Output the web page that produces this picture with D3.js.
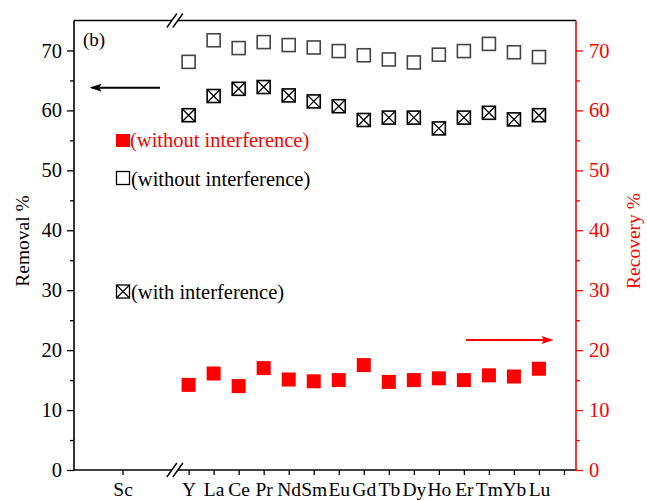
<!DOCTYPE html>
<html>
<head>
<meta charset="utf-8">
<script src="https://cdn.jsdelivr.net/npm/d3@7"></script>
<style>
  body { margin: 0; background: #fff; }
  svg, svg text { font-family: "Liberation Serif", "Times New Roman", serif; }
</style>
</head>
<body>
<div id="chart"></div>
<script>
// element labels along the broken x axis
var elements = ["Y", "La", "Ce", "Pr", "Nd", "Sm", "Eu", "Gd", "Tb", "Dy", "Ho", "Er", "Tm", "Yb", "Lu"];
var scLabel = "Sc";

// removal % (left axis)
var removalWithout = [68.1, 71.7, 70.4, 71.4, 70.9, 70.5, 69.9, 69.2, 68.5, 68.0, 69.3, 69.9, 71.1, 69.7, 68.9];
var removalWith = [59.2, 62.4, 63.6, 63.9, 62.5, 61.5, 60.7, 58.4, 58.8, 58.8, 57.0, 58.8, 59.6, 58.5, 59.2];

// recovery % (right axis)
var recoveryWithout = [14.2, 16.1, 14.0, 17.0, 15.1, 14.8, 15.0, 17.5, 14.7, 15.0, 15.3, 15.0, 15.8, 15.6, 16.9];

var yTicks = [0, 10, 20, 30, 40, 50, 60, 70];
var yMinorTicks = [5, 15, 25, 35, 45, 55, 65];

var W = 647, H = 500;
var margin = { top: 20.5, right: 71, bottom: 30, left: 74 };
var red = "#ff0000";
var serif = "Liberation Serif, Times New Roman, serif";

var svg = d3.select("#chart").append("svg")
    .attr("width", W).attr("height", H);

// x positions: index of the element, Sc sits left of the break
var x = d3.scaleLinear()
    .domain([-4.58, 15.48])
    .range([margin.left, W - margin.right]);
var scPos = -2.64, breakPos = -0.55;

var y = d3.scaleLinear().domain([0, 75]).range([H - margin.bottom, margin.top]);
var y2 = d3.scaleLinear().domain([0, 75]).range([H - margin.bottom, margin.top]);

var x0 = margin.left, x1 = W - margin.right;
var yTop = margin.top, yBot = H - margin.bottom;

// bottom axis
var tickVals = [scPos].concat(d3.range(0, 16));
var xAxis = d3.axisBottom(x)
    .tickValues(tickVals)
    .tickSize(5)
    .tickPadding(7)
    .tickSizeOuter(0)
    .tickFormat(function(d) {
        if (d === scPos) return scLabel;
        return elements[d] || "";
    });
var gx = svg.append("g")
    .attr("transform", "translate(0," + yBot + ")")
    .call(xAxis)
    .attr("font-family", serif);
gx.select(".domain").remove();
gx.selectAll("line").attr("stroke", "#000").attr("stroke-width", 1.3);
gx.selectAll("text").attr("font-size", 19.5).attr("fill", "#000");

// left axis
var gy = svg.append("g")
    .attr("transform", "translate(" + x0 + ",0)")
    .call(d3.axisLeft(y).tickValues(yTicks).tickSize(7).tickPadding(5).tickSizeOuter(0))
    .attr("font-family", serif);
gy.select(".domain").remove();
gy.selectAll("line").attr("stroke-width", 1.3);
gy.selectAll("text").attr("font-size", 20.5).attr("fill", "#000");
var gyMinor = svg.append("g")
    .attr("transform", "translate(" + x0 + ",0)")
    .call(d3.axisLeft(y).tickValues(yMinorTicks).tickSize(4).tickFormat(""));
gyMinor.select(".domain").remove();
gyMinor.selectAll("line").attr("stroke-width", 1.3);

// right axis (red)
var gy2 = svg.append("g")
    .attr("transform", "translate(" + x1 + ",0)")
    .call(d3.axisRight(y2).tickValues(yTicks).tickSize(7).tickPadding(6).tickSizeOuter(0))
    .attr("font-family", serif);
gy2.select(".domain").remove();
gy2.selectAll("line").attr("stroke", red).attr("stroke-width", 1.3);
gy2.selectAll("text").attr("font-size", 20.5).attr("fill", red);
var gy2Minor = svg.append("g")
    .attr("transform", "translate(" + x1 + ",0)")
    .call(d3.axisRight(y2).tickValues(yMinorTicks).tickSize(4).tickFormat(""));
gy2Minor.select(".domain").remove();
gy2Minor.selectAll("line").attr("stroke", red).attr("stroke-width", 1.3);

// frame
svg.append("line").attr("x1", x0).attr("x2", x1).attr("y1", yBot).attr("y2", yBot)
    .attr("stroke", "#000").attr("stroke-width", 1.6);
svg.append("line").attr("x1", x0).attr("x2", x1).attr("y1", yTop).attr("y2", yTop)
    .attr("stroke", "#000").attr("stroke-width", 1.6);
svg.append("line").attr("x1", x0).attr("x2", x0).attr("y1", yTop).attr("y2", yBot)
    .attr("stroke", "#000").attr("stroke-width", 1.6);
svg.append("line").attr("x1", x1).attr("x2", x1).attr("y1", yTop).attr("y2", yBot)
    .attr("stroke", red).attr("stroke-width", 1.6);

// axis break marks top and bottom
[yTop, yBot].forEach(function(yy) {
    var bx = x(breakPos);
    svg.append("rect").attr("x", bx - 3).attr("y", yy - 2).attr("width", 6).attr("height", 4)
        .attr("fill", "#fff");
    [-3, 3].forEach(function(off) {
        svg.append("line")
            .attr("x1", bx + off - 5).attr("y1", yy + 7)
            .attr("x2", bx + off + 5).attr("y2", yy - 7)
            .attr("stroke", "#000").attr("stroke-width", 1.4);
    });
});

var s = 13; // marker size

// open squares: removal without interference
svg.append("g").selectAll("rect")
    .data(removalWithout)
    .enter().append("rect")
    .attr("x", function(d, i) { return x(i) - s / 2; })
    .attr("y", function(d) { return y(d) - s / 2; })
    .attr("width", s).attr("height", s)
    .attr("fill", "none").attr("stroke", "#444").attr("stroke-width", 1.6);

// crossed squares: removal with interference
var cross = svg.append("g").selectAll("g")
    .data(removalWith)
    .enter().append("g")
    .attr("transform", function(d, i) { return "translate(" + x(i) + "," + y(d) + ")"; });
cross.append("rect")
    .attr("x", -s / 2).attr("y", -s / 2).attr("width", s).attr("height", s)
    .attr("fill", "none").attr("stroke", "#000").attr("stroke-width", 1.6);
cross.append("path")
    .attr("d", "M" + (-s / 2) + "," + (-s / 2) + "L" + (s / 2) + "," + (s / 2) +
               "M" + (s / 2) + "," + (-s / 2) + "L" + (-s / 2) + "," + (s / 2))
    .attr("stroke", "#000").attr("stroke-width", 1.3);

// red filled squares: recovery
svg.append("g").selectAll("rect")
    .data(recoveryWithout)
    .enter().append("rect")
    .attr("x", function(d, i) { return x(i) - 7; })
    .attr("y", function(d) { return y2(d) - 7; })
    .attr("width", 14).attr("height", 14)
    .attr("fill", red);

// arrows
var defs = svg.append("defs");
[["arrBlack", "#000"], ["arrRed", red]].forEach(function(a) {
    defs.append("marker").attr("id", a[0])
        .attr("viewBox", "0 0 10 10").attr("refX", 8).attr("refY", 5)
        .attr("markerWidth", 6).attr("markerHeight", 4).attr("orient", "auto")
        .attr("markerUnits", "strokeWidth")
        .attr("preserveAspectRatio", "none")
        .append("path").attr("d", "M0,0L10,5L0,10L2,5Z").attr("fill", a[1]);
});
svg.append("line").attr("x1", 160).attr("y1", 87.7).attr("x2", 92).attr("y2", 87.7)
    .attr("stroke", "#000").attr("stroke-width", 2).attr("marker-end", "url(#arrBlack)");
svg.append("line").attr("x1", 466).attr("y1", 340).attr("x2", 551).attr("y2", 340)
    .attr("stroke", red).attr("stroke-width", 2).attr("marker-end", "url(#arrRed)");

// panel label
svg.append("text").attr("x", 83).attr("y", 46).attr("font-size", 19).text("(b)");

// legend
var lg = svg.append("g");
lg.append("rect").attr("x", 116).attr("y", 134).attr("width", 14).attr("height", 13).attr("fill", red);
lg.append("text").attr("x", 130).attr("y", 147).attr("font-size", 20.5).attr("fill", red)
    .text("(without interference)");
lg.append("rect").attr("x", 116.5).attr("y", 171.5).attr("width", 13).attr("height", 13)
    .attr("fill", "none").attr("stroke", "#000").attr("stroke-width", 1.3);
lg.append("text").attr("x", 131).attr("y", 186).attr("font-size", 20.5).text("(without interference)");
var lc = lg.append("g").attr("transform", "translate(123,291.5)");
lc.append("rect").attr("x", -6.5).attr("y", -6.5).attr("width", 13).attr("height", 13)
    .attr("fill", "none").attr("stroke", "#000").attr("stroke-width", 1.3);
lc.append("path").attr("d", "M-6.5,-6.5L6.5,6.5M6.5,-6.5L-6.5,6.5").attr("stroke", "#000").attr("stroke-width", 1.1);
lg.append("text").attr("x", 131).attr("y", 299).attr("font-size", 20.5).text("(with interference)");

// axis titles
svg.append("text")
    .attr("transform", "translate(29,241) rotate(-90)")
    .attr("text-anchor", "middle").attr("font-size", 19.5).text("Removal %");
svg.append("text")
    .attr("transform", "translate(640,241) rotate(-90)")
    .attr("text-anchor", "middle").attr("font-size", 19.5).attr("fill", red).text("Recovery %");
</script>
</body>
</html>
